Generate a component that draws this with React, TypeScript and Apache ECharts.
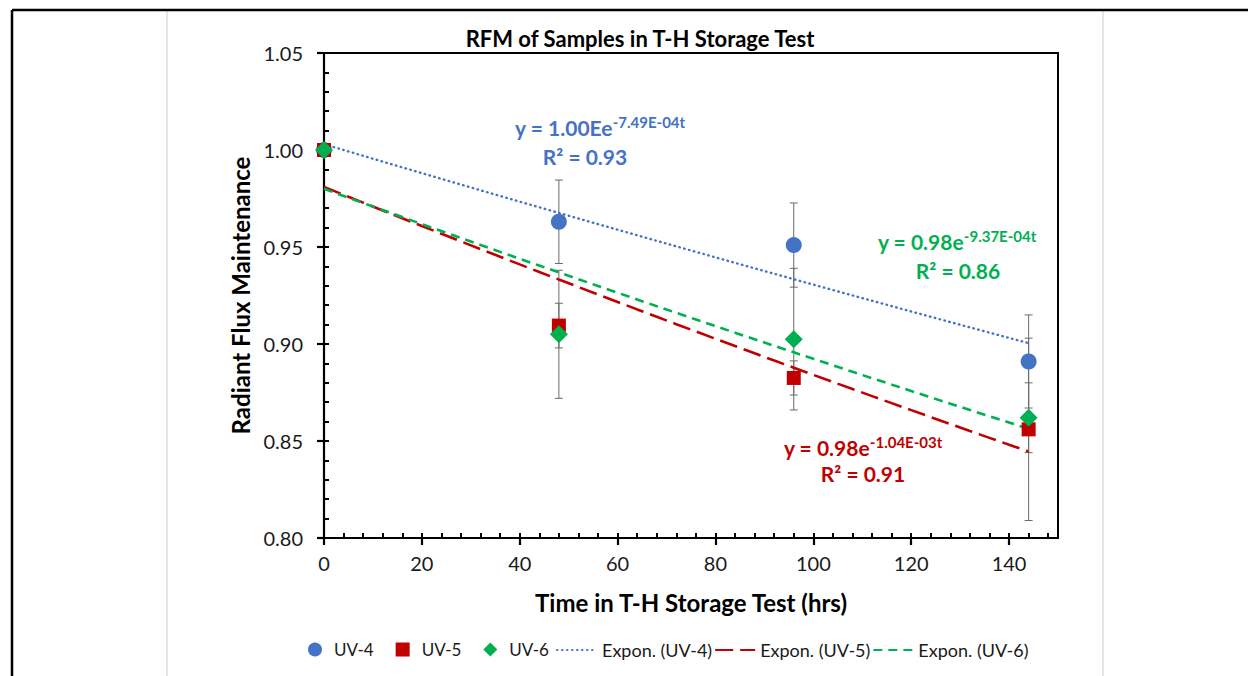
import React, { useEffect, useRef } from "react";
import * as echarts from "echarts";

// Storage time (hours) at which each sample was measured
const hours = [0, 48, 96, 144];

// Radiant flux maintenance per sample
const uv4 = [1.0, 0.963, 0.951, 0.891];
const uv5 = [1.0, 0.9095, 0.8825, 0.856];
const uv6 = [1.0, 0.905, 0.9025, 0.862];

// Error-bar half widths per sample
const uv4Err = [0, 0.0215, 0.0217, 0.024];
const uv5Err = [0, 0.0115, 0.0088, 0.047];
const uv6Err = [0, 0.033, 0.0365, 0.018];

// Exponential trend fits y = a * e^(b t) for UV-4, UV-5, UV-6
const trendA = [1.003, 0.981, 0.98];
const trendB = [-7.49e-4, -1.04e-3, -9.37e-4];
const trendR2 = [0.93, 0.91, 0.86];
const trendBase = ["Ee", "e", "e"];

const sampleNames = ["UV-4", "UV-5", "UV-6"];
const trendNames = ["Expon. (UV-4)", "Expon. (UV-5)", "Expon. (UV-6)"];

const xTicks = { min: 0, max: 150, interval: 20 };
const yTicks = { min: 0.8, max: 1.05, interval: 0.05 };

const BLUE = "#4472C4";
const RED = "#C00000";
const GREEN = "#00B050";
const FONT = "Lato, 'Noto Sans', sans-serif";

function expLabel(b: number): string {
  const exp = Math.floor(Math.log10(Math.abs(b)));
  const mant = b / Math.pow(10, exp);
  const sign = exp < 0 ? "-" : "+";
  const e = String(Math.abs(exp)).padStart(2, "0");
  return `${mant.toFixed(2)}E${sign}${e}t`;
}

function trendPoints(i: number): number[][] {
  const pts: number[][] = [];
  for (let t = hours[0]; t <= hours[hours.length - 1]; t += 4) {
    pts.push([t, trendA[i] * Math.exp(trendB[i] * t)]);
  }
  return pts;
}

function errData(vals: number[], errs: number[]): number[][] {
  return hours
    .map((t, i) => [t, vals[i] - errs[i], vals[i] + errs[i]])
    .filter((_, i) => errs[i] > 0);
}

const errorRender = (params: any, api: any) => {
  const x = api.value(0);
  const lo = api.coord([x, api.value(1)]);
  const hi = api.coord([x, api.value(2)]);
  const w = 4;
  const style = { stroke: "#6b6b6b", lineWidth: 1 };
  return {
    type: "group",
    children: [
      { type: "line", shape: { x1: lo[0], y1: lo[1], x2: hi[0], y2: hi[1] }, style },
      { type: "line", shape: { x1: lo[0] - w, y1: lo[1], x2: lo[0] + w, y2: lo[1] }, style },
      { type: "line", shape: { x1: hi[0] - w, y1: hi[1], x2: hi[0] + w, y2: hi[1] }, style },
    ],
  };
};

export default function App() {
  const ref = useRef<HTMLDivElement>(null);

  useEffect(() => {
    if (!ref.current) return;
    const chart = echarts.init(ref.current, undefined, { renderer: "svg" });

    const colors = [BLUE, RED, GREEN];
    const symbols = ["circle", "rect", "diamond"];
    const symbolSizes = [16, 14, 18];
    const sampleVals = [uv4, uv5, uv6];
    const sampleErrs = [uv4Err, uv5Err, uv6Err];
    const dashes = [
      { type: [0.5, 4.5], cap: "round", width: 2.4 },
      { type: [18, 7], cap: "butt", width: 2.6 },
      { type: [9, 6], cap: "butt", width: 2.6 },
    ];

    const errSeries = sampleVals.map((v, i) => ({
      type: "custom",
      name: `err-${sampleNames[i]}`,
      renderItem: errorRender,
      data: errData(v, sampleErrs[i]),
      encode: { x: 0, y: [1, 2] },
      z: 1,
      silent: true,
    }));

    const trendSeries = trendNames.map((n, i) => ({
      type: "line",
      name: n,
      data: trendPoints(i),
      symbol: "none",
      smooth: false,
      color: colors[i],
      lineStyle: { color: colors[i], width: dashes[i].width, type: dashes[i].type, cap: dashes[i].cap },
      z: 2,
    }));

    const scatterSeries = sampleNames.map((n, i) => ({
      type: "scatter",
      name: n,
      data: hours.map((t, j) => [t, sampleVals[i][j]]),
      symbol: symbols[i],
      symbolSize: symbolSizes[i],
      itemStyle: { color: colors[i], opacity: 1 },
      z: 3 + i,
    }));

    const eqnPos = [
      { l1: [600, 127], l2: [585, 156] },
      { l1: [863, 447], l2: [863, 473] },
      { l1: [957, 241], l2: [958, 270] },
    ];

    const eqnGraphics: any[] = [];
    trendA.forEach((a, i) => {
      eqnGraphics.push({
        type: "text",
        x: eqnPos[i].l1[0],
        y: eqnPos[i].l1[1],
        style: {
          text: `{m|y = ${a.toFixed(2)}${trendBase[i]}}{s|${expLabel(trendB[i])}}`,
          align: "center",
          verticalAlign: "middle",
          rich: {
            m: { fontSize: 21, fontWeight: "bold", fill: colors[i], fontFamily: FONT, lineHeight: 26 },
            s: { fontSize: 15, fontWeight: "bold", fill: colors[i], fontFamily: FONT, verticalAlign: "top", lineHeight: 26, padding: [0, 0, 10, 0] },
          },
        },
      });
      eqnGraphics.push({
        type: "text",
        x: eqnPos[i].l2[0],
        y: eqnPos[i].l2[1],
        style: {
          text: `R² = ${trendR2[i].toFixed(2)}`,
          align: "center",
          verticalAlign: "middle",
          fontSize: 21,
          fontWeight: "bold",
          fill: colors[i],
          fontFamily: FONT,
        },
      });
    });

    const frame = [
      { type: "line", shape: { x1: 167, y1: 10, x2: 167, y2: 676 }, style: { stroke: "#dcdcdc", lineWidth: 1.5 } },
      { type: "line", shape: { x1: 1103, y1: 10, x2: 1103, y2: 676 }, style: { stroke: "#dcdcdc", lineWidth: 1.5 } },
      { type: "line", shape: { x1: 12, y1: 10, x2: 1248, y2: 10 }, style: { stroke: "#000", lineWidth: 2.5 } },
      { type: "line", shape: { x1: 12, y1: 10, x2: 12, y2: 676 }, style: { stroke: "#000", lineWidth: 2.5 } },
    ];

    const axisLabelStyle = { fontSize: 20, color: "#1a1a1a", fontFamily: FONT };

    chart.setOption({
      animation: false,
      backgroundColor: "#ffffff",
      title: {
        text: "RFM of Samples in T-H Storage Test",
        left: 635,
        top: 22,
        textAlign: "center",
        textStyle: { fontSize: 22, fontWeight: "bold", color: "#000", fontFamily: FONT },
      },
      grid: {
        left: 324,
        top: 53,
        right: 190,
        bottom: 138,
        show: true,
        borderColor: "#000",
        borderWidth: 2,
        backgroundColor: "transparent",
      },
      legend: [
        {
          data: sampleNames,
          left: 303,
          top: 636,
          itemWidth: 14,
          itemHeight: 14,
          itemGap: 22,
          textStyle: { fontSize: 17, color: "#1a1a1a", fontFamily: FONT, padding: [0, 0, 0, 7] },
        },
        {
          data: trendNames,
          left: 551,
          top: 636,
          itemWidth: 40,
          itemHeight: 14,
          itemGap: 2,
          itemStyle: { opacity: 0 },
          textStyle: { fontSize: 18, color: "#1a1a1a", fontFamily: FONT },
        },
      ],
      xAxis: [
        {
          type: "value",
          ...xTicks,
          position: "bottom",
          name: "Time in T-H Storage Test (hrs)",
          nameLocation: "middle",
          nameGap: 52,
          nameTextStyle: { fontSize: 24, fontWeight: "bold", color: "#000", fontFamily: FONT },
          axisLine: { show: true, lineStyle: { color: "#000", width: 2.2 } },
          axisTick: { show: true, inside: false, length: 7, lineStyle: { color: "#000", width: 2.2 } },
          axisLabel: { ...axisLabelStyle, margin: 15, showMaxLabel: false },
          splitLine: { show: false },
        },
        {
          type: "value",
          ...xTicks,
          position: "bottom",
          axisLine: { show: false },
          axisTick: { show: true, inside: true, length: 5, lineStyle: { color: "#000", width: 2 } },
          minorTick: { show: true, splitNumber: 5, length: 5, lineStyle: { color: "#000", width: 2 } },
          axisLabel: { show: false },
          splitLine: { show: false },
        },
      ],
      yAxis: [
        {
          type: "value",
          ...yTicks,
          position: "left",
          name: "Radiant Flux Maintenance",
          nameLocation: "middle",
          nameGap: 69,
          nameTextStyle: { fontSize: 24, fontWeight: "bold", color: "#000", fontFamily: FONT },
          axisLine: { show: true, lineStyle: { color: "#000", width: 2.2 } },
          axisTick: { show: true, inside: false, length: 7, lineStyle: { color: "#000", width: 2.2 } },
          axisLabel: { ...axisLabelStyle, margin: 21, formatter: (v: number) => v.toFixed(2) },
          splitLine: { show: false },
        },
        {
          type: "value",
          ...yTicks,
          position: "left",
          axisLine: { show: false },
          axisTick: { show: true, inside: true, length: 5, lineStyle: { color: "#000", width: 2 } },
          minorTick: { show: true, splitNumber: 5, length: 5, lineStyle: { color: "#000", width: 2 } },
          axisLabel: { show: false },
          splitLine: { show: false },
        },
      ],
      graphic: [...frame, ...eqnGraphics],
      series: [...errSeries, ...trendSeries, ...scatterSeries],
    });

    return () => chart.dispose();
  }, []);

  return (
    <div
      ref={ref}
      style={{ position: "absolute", left: 0, top: 0, width: 1248, height: 676, background: "#fff" }}
    />
  );
}
